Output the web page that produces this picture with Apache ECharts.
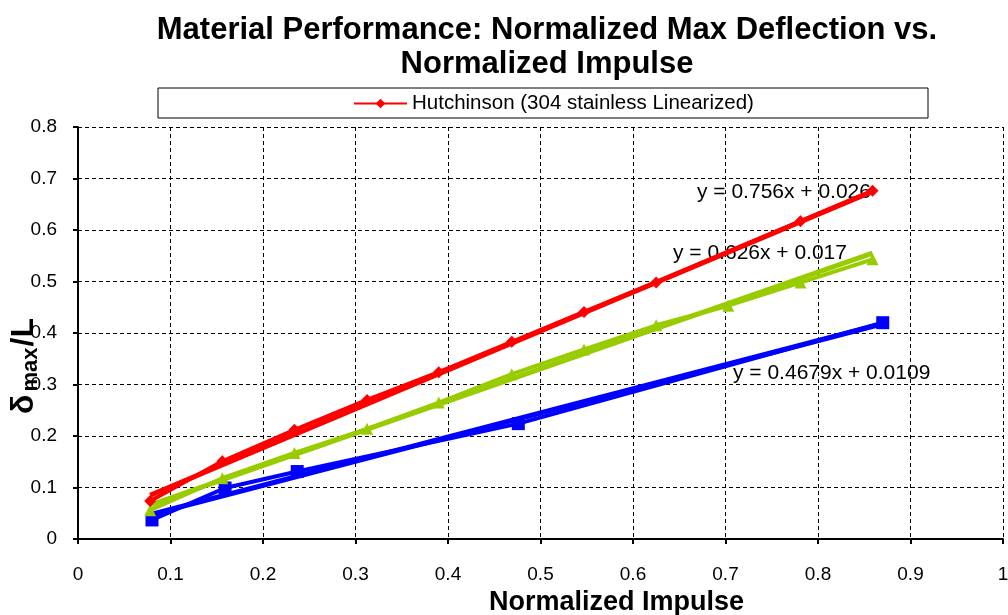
<!DOCTYPE html>
<html>
<head>
<meta charset="utf-8">
<script src="https://cdn.jsdelivr.net/npm/echarts@6/dist/echarts.min.js"></script>
<style>
html,body{margin:0;padding:0;background:#fff;}
#chart{width:1008px;height:615px;}
</style>
</head>
<body>
<div id="chart"></div>
<script>
// ---- data ----
const titleText = 'Material Performance: Normalized Max Deflection vs.\nNormalized Impulse';
const xAxisName = 'Normalized Impulse';
const legendName = 'Hutchinson (304 stainless Linearized)';

const xRed   = [0.078, 0.156, 0.234, 0.3125, 0.39, 0.469, 0.547, 0.625, 0.781, 0.859];
const yRed   = [0.074, 0.151, 0.212, 0.270, 0.324, 0.383, 0.441, 0.498, 0.617, 0.676];
const xGreen = [0.078, 0.156, 0.234, 0.3125, 0.39, 0.469, 0.547, 0.625, 0.703, 0.781, 0.859];
const yGreen = [0.056, 0.118, 0.167, 0.214, 0.265, 0.320, 0.368, 0.415, 0.453, 0.498, 0.543];
const xBlue  = [0.080, 0.159, 0.237, 0.476, 0.870];
const yBlue  = [0.037, 0.099, 0.131, 0.224, 0.420];

// linear trend lines (end points)
const trendRedX   = [0.078, 0.859];
const trendRedY   = [0.085, 0.675];
const trendGreenX = [0.078, 0.859];
const trendGreenY = [0.066, 0.555];
const trendBlueX  = [0.080, 0.870];
const trendBlueY  = [0.048, 0.418];

const eqRed   = 'y = 0.756x + 0.026';
const eqGreen = 'y = 0.626x + 0.017';
const eqBlue  = 'y = 0.4679x + 0.0109';

const RED = '#FF0000', GREEN = '#99CC00', BLUE = '#0000FF';
const FONT = '"Liberation Sans", Arial, sans-serif';

function pairs(xs, ys){ return xs.map((x,i)=>[x, ys[i]]); }

const chart = echarts.init(document.getElementById('chart'), null, {renderer:'canvas'});

const option = {
  backgroundColor: '#fff',
  animation: false,
  title: {
    text: titleText,
    left: 542, textAlign: 'center',
    top: 8,
    textStyle: { fontFamily: FONT, fontWeight: 'bold', fontSize: 31, lineHeight: 34, color: '#000' }
  },
  legend: {
    data: [legendName],
    left: 353, top: 93, padding: 0,
    itemWidth: 53, itemHeight: 12, itemGap: 5,
    textStyle: { fontFamily: FONT, fontSize: 20.5, color: '#000' }
  },
  grid: { left: 78, right: 5, top: 127, bottom: 76, containLabel: false, outerBoundsMode: 'none' },
  xAxis: {
    type: 'value', min: 0, max: 1, interval: 0.1,
    name: xAxisName, nameLocation: 'middle', nameGap: 48,
    nameTextStyle: { fontFamily: FONT, fontWeight: 'bold', fontSize: 27, color: '#000', padding: [0,0,0,152] },
    axisLine: { lineStyle: { color: '#000', width: 2 } },
    axisTick: { show: true, length: 5, lineStyle: { color: '#000', width: 2 } },
    axisLabel: { fontFamily: FONT, fontSize: 19, color: '#000', margin: 26 },
    splitLine: { show: true, lineStyle: { color: '#000', type: [4,3], width: 1 } }
  },
  yAxis: {
    type: 'value', min: 0, max: 0.8, interval: 0.1,
    axisLine: { show: true, lineStyle: { color: '#000', width: 2 } },
    axisTick: { show: true, length: 5, lineStyle: { color: '#000', width: 2 } },
    axisLabel: { fontFamily: FONT, fontSize: 19, color: '#000', margin: 21 },
    splitLine: { show: true, lineStyle: { color: '#000', type: [4,3], width: 1 } }
  },
  graphic: [
    { type: 'rect', shape: { x: 158, y: 88, width: 770, height: 30 },
      style: { fill: 'none', stroke: '#000', lineWidth: 1 }, z: 0 },
    { type: 'text', x: 24, y: 366, rotation: Math.PI/2, z: 10,
      style: { text: '{d|δ}{s|max}{d|/L}', align: 'center', verticalAlign: 'middle',
        rich: {
          d: { fontFamily: FONT, fontWeight: 'bold', fontSize: 32, fill: '#000', lineHeight: 36 },
          s: { fontFamily: FONT, fontWeight: 'bold', fontSize: 22, fill: '#000', lineHeight: 36, verticalAlign: 'bottom', padding: [12,1,0,3] }
        } } },
    { type: 'text', x: 697, y: 192, z: 0,
      style: { text: eqRed, fontFamily: FONT, fontSize: 21, fill: '#000', align: 'left', verticalAlign: 'middle' } },
    { type: 'text', x: 673, y: 253, z: 0,
      style: { text: eqGreen, fontFamily: FONT, fontSize: 21, fill: '#000', align: 'left', verticalAlign: 'middle' } },
    { type: 'text', x: 733, y: 373, z: 0,
      style: { text: eqBlue, fontFamily: FONT, fontSize: 21, fill: '#000', align: 'left', verticalAlign: 'middle' } }
  ],
  series: [
    { name: 'trend-blue', type: 'line', data: pairs(trendBlueX, trendBlueY), showSymbol: false, symbol: 'none',
      lineStyle: { color: BLUE, width: 5 }, itemStyle: { color: BLUE }, silent: true },
    { name: 'Blue data', type: 'line', data: pairs(xBlue, yBlue), symbol: 'rect', symbolSize: 13,
      lineStyle: { color: BLUE, width: 4 }, itemStyle: { color: BLUE } },
    { name: 'trend-green', type: 'line', data: pairs(trendGreenX, trendGreenY), showSymbol: false, symbol: 'none',
      lineStyle: { color: GREEN, width: 5 }, itemStyle: { color: GREEN }, silent: true },
    { name: 'Green data', type: 'line', data: pairs(xGreen, yGreen), symbol: 'triangle', symbolSize: 12,
      lineStyle: { color: GREEN, width: 4 }, itemStyle: { color: GREEN } },
    { name: 'trend-red', type: 'line', data: pairs(trendRedX, trendRedY), showSymbol: false, symbol: 'none',
      lineStyle: { color: RED, width: 5 }, itemStyle: { color: RED }, silent: true },
    { name: legendName, type: 'line', data: pairs(xRed, yRed), symbol: 'diamond', symbolSize: 12,
      lineStyle: { color: RED, width: 4 }, itemStyle: { color: RED } }
  ]
};
chart.setOption(option);
</script>
</body>
</html>
